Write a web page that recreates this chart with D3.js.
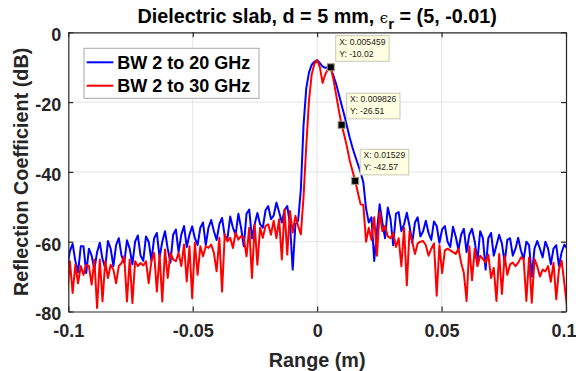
<!DOCTYPE html>
<html><head><meta charset="utf-8">
<script src="https://cdn.jsdelivr.net/npm/d3@7"></script>
<style>
body{margin:0;background:#fff}
svg{display:block}
text{font-family:"Liberation Sans",Arial,Helvetica,sans-serif}
</style>
</head><body>
<svg id="chart" width="576" height="371"></svg>
<script>
// sample grid of the range profile (m)
const sampleStep = 0.0010918;
const firstSampleIndex = -92;

// BW 2 to 20 GHz (dB)
const bw20 = [
-67.1,-62.7,-60.6,-65.5,-68.8,-61.3,-61.3,-69,-62,-64,
-68,-63,-60.3,-65,-67.5,-59.8,-62,-67,-61,-59,
-64,-66,-59.6,-62,-66.5,-60,-58.2,-64,-65.5,-58.5,
-60,-65.5,-59,-57.5,-64.5,-60,-57,-62,-66,-58,
-56.5,-63,-58,-55.5,-61.5,-58,-55.6,-59,-61,-56,
-54.5,-61,-56,-53.8,-57,-59.5,-55,-53.2,-58.5,-59,
-52.8,-56,-58,-52,-56,-61.3,-52,-50.8,-59,-55,
-51.8,-55,-56,-51,-49.8,-53.5,-52.5,-48.8,-51.5,-54.5,
-51,-49.8,-55,-68,-55,-54,-45,-26.5,-16,-11.5,
-9.3,-8.4,-8.0,-8.8,-9.8,-10.2,-10.0,-10.3,-12.5,-14.8,
-17.8,-20.8,-23.8,-27,-30.2,-33,-35.5,-37.8,-40.2,-43,
-50.5,-54.5,-53,-65.5,-57,-49.3,-54.5,-59,-50.2,-53.5,
-61,-52,-51.5,-57,-55,-51.7,-55.5,-60.3,-54.5,-53,
-58.5,-57,-54,-57.5,-59.5,-54.2,-55.5,-60.3,-56.5,-55.5,
-60,-61.5,-55.7,-58.5,-62.3,-58,-56.3,-63,-58,-56.3,
-60,-65.5,-57,-59,-68,-59,-57.5,-64,-61,-58,
-60.5,-66,-59.5,-59,-64,-62,-58.9,-62.5,-65,-60,
-61,-70,-62,-59.8,-62,-64.5,-60,-62,-66.5,-62,
-61,-67,-63,-60.8,-62
];

// BW 2 to 30 GHz (dB)
const bw30 = [
-75.2,-65.6,-74.7,-66.6,-71.9,-67,-69.5,-66.6,-67,-72.3,
-65.1,-79,-65.1,-77.1,-65.6,-70.4,-66.6,-68,-71.9,-67,
-66.1,-64.2,-77.1,-65.1,-77.6,-65.6,-67,-66.1,-66.8,-65.6,
-71.9,-65.6,-63.2,-74.3,-63.7,-77.1,-62.2,-70.4,-63.2,-65.1,
-65.6,-63.2,-67,-60.8,-71.4,-61.3,-76.2,-60.3,-69.5,-61.3,
-64.2,-61.3,-61.8,-60.8,-63.2,-68.5,-58.9,-74.3,-57.9,-59.9,
-58.9,-61.8,-57.4,-59.4,-58.4,-58.9,-64.2,-56,-70.4,-55,
-66.6,-56,-58.9,-55.5,-55,-58,-54,-59,-53.6,-65.1,
-50.7,-63.7,-51.2,-57.4,-52.6,-55.5,-57.9,-47,-32.5,-19.5,
-12,-9,-8,-10,-14.5,-12,-10.5,-10.02,-13.5,-18,
-22.4,-26.51,-29.6,-32.9,-36.8,-39.7,-42.57,-46,-49.3,-49.5,
-60,-56,-59.5,-53,-64,-51.5,-57,-55.5,-58.5,-59,
-57.5,-61.5,-59,-67,-56,-72.5,-57,-60,-63.5,-60.5,
-60,-59.8,-61,-64,-62,-60.5,-75.5,-61,-69,-62.5,
-62,-62.5,-63,-63.5,-62,-66,-69,-77,-61.3,-71,
-62,-67,-64,-65,-66,-63.7,-70.4,-67.5,-77,-63.5,
-75,-64,-69.5,-66.5,-66,-67,-66,-64.5,-65,-77,
-64.5,-77.5,-65,-67,-70,-68,-68.5,-67,-71.5,-66,
-76.5,-68,-65.5,-72,-79
];

const seriesNames = ["BW 2 to 20 GHz", "BW 2 to 30 GHz"];
const seriesColors = ["#0000ff", "#ff0000"];
const xTicks = [-0.1, -0.05, 0, 0.05, 0.1];
const xTickLabels = ["-0.1", "-0.05", "0", "0.05", "0.1"];
const yTicks = [0, -20, -40, -60, -80];
const yTickLabels = ["0", "-20", "-40", "-60", "-80"];
const tipX = [0.005459, 0.009826, 0.01529];
const tipY = [-10.02, -26.51, -42.57];
const tipXLabels = ["X: 0.005459", "X: 0.009826", "X: 0.01529"];
const tipYLabels = ["Y: -10.02", "Y: -26.51", "Y: -42.57"];

const svg = d3.select("#chart");
const L = 68.3, R = 566, T = 32.3, B = 311.5;
const x = d3.scaleLinear().domain([-0.1, 0.1]).range([L, R]);
const y = d3.scaleLinear().domain([-80, 0]).range([B, T]);
const axisColor = "#262626";

// grid
const grid = svg.append("g");
grid.selectAll("line.gx").data(xTicks.slice(1, -1)).join("line")
  .attr("x1", d => x(d)).attr("x2", d => x(d)).attr("y1", T).attr("y2", B)
  .attr("stroke", "#e4e4e4").attr("stroke-width", 1);
grid.selectAll("line.gy").data(yTicks.slice(1, -1)).join("line")
  .attr("x1", L).attr("x2", R).attr("y1", d => y(d)).attr("y2", d => y(d))
  .attr("stroke", "#e4e4e4").attr("stroke-width", 1);

// curves
const seriesData = [bw20, bw30].map(arr => arr.map((v, i) => ({xv: (firstSampleIndex + i) * sampleStep, yv: v})));
svg.append("clipPath").attr("id", "clip").append("rect")
  .attr("x", L).attr("y", T).attr("width", R - L).attr("height", B - T);
const line = d3.line().x(d => x(d.xv)).y(d => y(d.yv));
const plot = svg.append("g").attr("clip-path", "url(#clip)");
seriesData.forEach((s, k) => {
  plot.append("path").datum(s).attr("d", line)
    .attr("fill", "none").attr("stroke", seriesColors[k])
    .attr("stroke-width", 2).attr("stroke-linejoin", "round");
});

// axes
function styleAxis(g) {
  g.selectAll("path.domain").attr("stroke", axisColor).attr("stroke-width", 1.2);
  g.selectAll(".tick line").attr("stroke", axisColor).attr("stroke-width", 1.2);
  g.selectAll(".tick text").attr("fill", axisColor)
    .style("font-family", '"Liberation Sans", Arial, sans-serif')
    .style("font-size", "18px").style("font-weight", "bold");
}
const xAxis = svg.append("g").attr("transform", `translate(0,${B})`)
  .call(d3.axisBottom(x).tickValues(xTicks).tickFormat((d, i) => xTickLabels[i])
    .tickSizeInner(-5).tickSizeOuter(0).tickPadding(13));
styleAxis(xAxis);
// keep the last label inside the picture
xAxis.selectAll(".tick text").filter((d, i) => i === xTicks.length - 1).attr("dx", -2.5);
const xAxisTop = svg.append("g").attr("transform", `translate(0,${T})`)
  .call(d3.axisTop(x).tickValues(xTicks).tickFormat("").tickSizeInner(-5).tickSizeOuter(0));
styleAxis(xAxisTop);
const yAxis = svg.append("g").attr("transform", `translate(${L},0)`)
  .call(d3.axisLeft(y).tickValues(yTicks).tickFormat((d, i) => yTickLabels[i])
    .tickSizeInner(-5).tickSizeOuter(0).tickPadding(7));
styleAxis(yAxis);
yAxis.selectAll(".tick text").attr("dy", "0.47em");
const yAxisRight = svg.append("g").attr("transform", `translate(${R},0)`)
  .call(d3.axisRight(y).tickValues(yTicks).tickFormat("").tickSizeInner(-5).tickSizeOuter(0));
styleAxis(yAxisRight);

// axis labels
svg.append("text").attr("x", (L + R) / 2).attr("y", 366.5).attr("text-anchor", "middle")
  .attr("fill", axisColor).style("font-size", "19.8px").style("font-weight", "bold")
  .text("Range (m)");
svg.append("text").attr("transform", `translate(28,${(T + B) / 2}) rotate(-90)`)
  .attr("text-anchor", "middle").attr("fill", axisColor)
  .style("font-size", "19.8px").style("font-weight", "bold")
  .text("Reflection Coefficient (dB)");

// title
const title = svg.append("text").attr("x", (L + R) / 2).attr("y", 23).attr("text-anchor", "middle")
  .attr("fill", "#000").style("font-size", "19.8px").style("font-weight", "bold");
title.append("tspan").text("Dielectric slab, d = 5 mm, ");
title.append("tspan").style("font-family", '"DejaVu Serif", serif').style("font-weight", "normal")
  .style("font-size", "15px").text("ϵ");
title.append("tspan").attr("dy", 6).style("font-size", "15px").text("r");
title.append("tspan").attr("dy", -6).text(" = (5, -0.01)");

// legend
const lg = svg.append("g");
lg.append("rect").attr("x", 84).attr("y", 48.3).attr("width", 175).attr("height", 50)
  .attr("fill", "#fff").attr("stroke", "#a8a8a8").attr("stroke-width", 1);
seriesNames.forEach((n, k) => {
  const cy = 62.3 + k * 23.4;
  lg.append("line").attr("x1", 86.7).attr("x2", 113.3).attr("y1", cy).attr("y2", cy)
    .attr("stroke", seriesColors[k]).attr("stroke-width", 2);
  lg.append("text").attr("x", 117.3).attr("y", cy + 6.6).attr("fill", "#000")
    .style("font-size", "18px").style("font-weight", "bold").text(n);
});

// data tips
tipX.forEach((tx, k) => {
  const mx = x(tx), my = y(tipY[k]);
  const g = svg.append("g");
  const bx = mx + 5, btop = my - 6 - 25.6;
  const t1 = g.append("text").attr("x", bx + 3.4).attr("y", btop + 9.2)
    .style("font-size", "8.6px").attr("fill", "#1a1a1a").text(tipXLabels[k]);
  const t2 = g.append("text").attr("x", bx + 3.4).attr("y", btop + 20.9)
    .style("font-size", "8.6px").attr("fill", "#1a1a1a").text(tipYLabels[k]);
  const w = Math.max(t1.node().getComputedTextLength(), t2.node().getComputedTextLength()) + 7;
  g.insert("rect", "text").attr("x", bx).attr("y", btop).attr("width", w).attr("height", 25.6)
    .attr("fill", "#ffffe1").attr("stroke", "#c8c8b8").attr("stroke-width", 1);
  svg.append("rect").attr("x", mx - 3.5).attr("y", my - 3.5).attr("width", 7).attr("height", 7)
    .attr("fill", "#000").attr("stroke", "#a09c84").attr("stroke-width", 1);
});
</script>
</body></html>
